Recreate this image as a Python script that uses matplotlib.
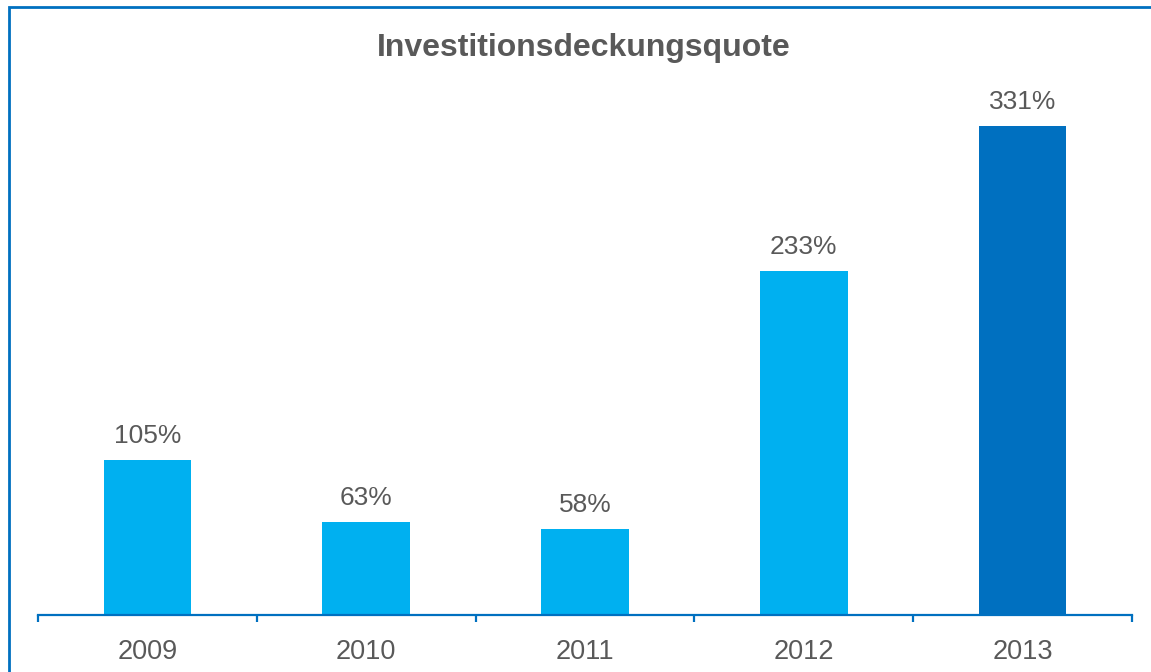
import matplotlib.pyplot as plt
from matplotlib.patches import Rectangle
from matplotlib.ticker import FixedLocator, NullFormatter

plt.rcParams["font.family"] = ["Liberation Sans", "DejaVu Sans"]

years = ["2009", "2010", "2011", "2012", "2013"]
quote = [105, 63, 58, 233, 331]
bar_colors = ["#00B0F0", "#00B0F0", "#00B0F0", "#00B0F0", "#0070C0"]

W, H = 1151, 672
fig = plt.figure(figsize=(W / 100, H / 100), dpi=100)

# outer frame, right and bottom edges run past the canvas
fig.patches.append(Rectangle((8.5 / W, -0.2), 1.3, 1.2 - 7.5 / H,
                             transform=fig.transFigure, fill=False,
                             edgecolor="#0070C0", lw=2.0, clip_on=False))

ax = fig.add_axes([38 / W, (H - 615) / H, (1132 - 38) / W, (615 - 90) / H])
x = range(len(years))
bars = ax.bar(x, quote, width=0.4, color=bar_colors)
for b, v in zip(bars, quote):
    ax.annotate(f"{v}%", (b.get_x() + b.get_width() / 2, v),
                xytext=(0, 12.3), textcoords="offset points",
                ha="center", va="baseline", fontsize=19, color="#595959")

ax.set_xlim(-0.5, len(years) - 0.5)
ax.set_ylim(0, 355.4)
for side in ("top", "right", "left"):
    ax.spines[side].set_visible(False)
ax.spines["bottom"].set_color("#0070C0")
ax.spines["bottom"].set_linewidth(1.6)
ax.set_yticks([])

ax.xaxis.set_major_locator(FixedLocator([i - 0.5 for i in range(len(years) + 1)]))
ax.xaxis.set_major_formatter(NullFormatter())
ax.xaxis.set_minor_locator(FixedLocator(list(x)))
ax.set_xticklabels(years, minor=True)
ax.tick_params(axis="x", which="major", direction="out", length=5,
               width=1.6, color="#0070C0")
ax.tick_params(axis="x", which="minor", length=0, pad=17,
               labelsize=19.5, labelcolor="#595959")

fig.text(584 / W, 1 - 56 / H, "Investitionsdeckungsquote", ha="center",
         va="baseline", fontsize=23, fontweight="bold", color="#595959")

fig.savefig("out.png", dpi=100)
